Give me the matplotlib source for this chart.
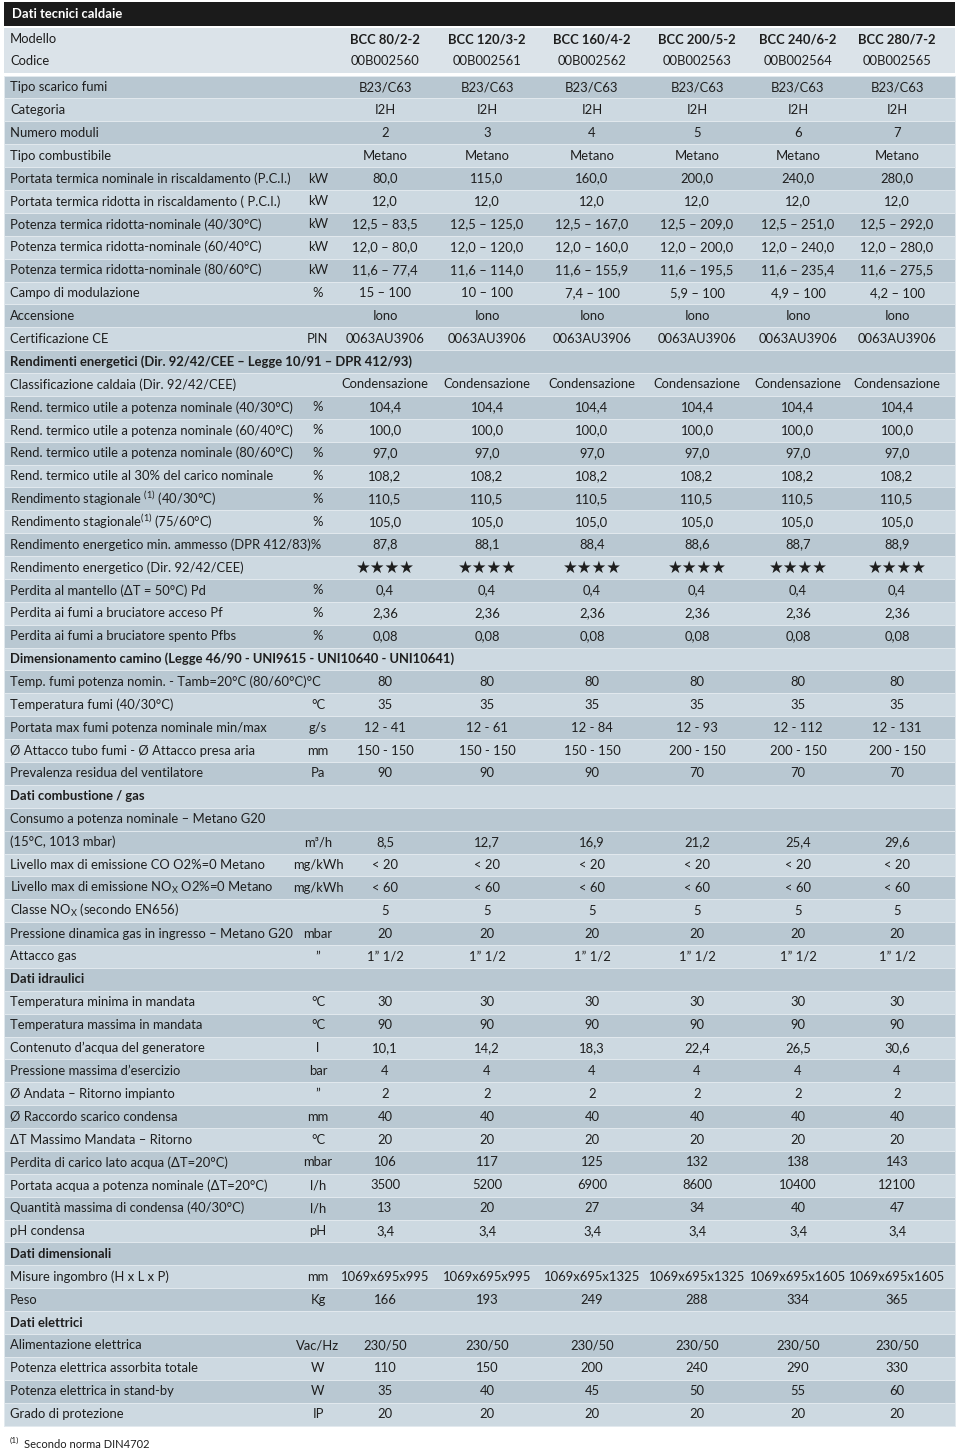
import matplotlib
matplotlib.use("Agg")
import matplotlib.pyplot as plt

plt.rcParams['font.family'] = ['Lato', 'DejaVu Sans']
plt.rcParams['mathtext.fontset'] = 'custom'
plt.rcParams['mathtext.rm'] = 'Lato'
plt.rcParams['mathtext.bf'] = 'Lato:bold'
plt.rcParams['mathtext.it'] = 'Lato:italic'

# Intestazione tabella
titolo = "Dati tecnici caldaie"
modelli = ["BCC 80/2-2", "BCC 120/3-2", "BCC 160/4-2", "BCC 200/5-2", "BCC 240/6-2", "BCC 280/7-2"]
codici = ["00B002560", "00B002561", "00B002562", "00B002563", "00B002564", "00B002565"]

# righe: (etichetta, unita, valori) ; valori None = intestazione di sezione
generale = [
    ("Tipo scarico fumi", "", ["B23/C63"] * 6),
    ("Categoria", "", ["I2H"] * 6),
    ("Numero moduli", "", ["2", "3", "4", "5", "6", "7"]),
    ("Tipo combustibile", "", ["Metano"] * 6),
    ("Portata termica nominale in riscaldamento (P.C.I.)", "kW", ["80,0", "115,0", "160,0", "200,0", "240,0", "280,0"]),
    ("Portata termica ridotta in riscaldamento ( P.C.I.)", "kW", ["12,0"] * 6),
    ("Potenza termica ridotta-nominale (40/30°C)", "kW",
     ["12,5 – 83,5", "12,5 – 125,0", "12,5 – 167,0", "12,5 – 209,0", "12,5 – 251,0", "12,5 – 292,0"]),
    ("Potenza termica ridotta-nominale (60/40°C)", "kW",
     ["12,0 – 80,0", "12,0 – 120,0", "12,0 – 160,0", "12,0 – 200,0", "12,0 – 240,0", "12,0 – 280,0"]),
    ("Potenza termica ridotta-nominale (80/60°C)", "kW",
     ["11,6 – 77,4", "11,6 – 114,0", "11,6 – 155,9", "11,6 – 195,5", "11,6 – 235,4", "11,6 – 275,5"]),
    ("Campo di modulazione", "%", ["15 – 100", "10 – 100", "7,4 – 100", "5,9 – 100", "4,9 – 100", "4,2 – 100"]),
    ("Accensione", "", ["Iono"] * 6),
    ("Certificazione CE", "PIN", ["0063AU3906"] * 6),
]

rendimenti = [
    ("Rendimenti energetici (Dir. 92/42/CEE – Legge 10/91 – DPR 412/93)", "", None),
    ("Classificazione caldaia (Dir. 92/42/CEE)", "", ["Condensazione"] * 6),
    ("Rend. termico utile a potenza nominale (40/30°C)", "%", ["104,4"] * 6),
    ("Rend. termico utile a potenza nominale (60/40°C)", "%", ["100,0"] * 6),
    ("Rend. termico utile a potenza nominale (80/60°C)", "%", ["97,0"] * 6),
    ("Rend. termico utile al 30% del carico nominale", "%", ["108,2"] * 6),
    (r"Rendimento stagionale $^{\rm (1)}$ (40/30°C)", "%", ["110,5"] * 6),
    (r"Rendimento stagionale$^{\rm (1)}$ (75/60°C)", "%", ["105,0"] * 6),
    ("Rendimento energetico min. ammesso (DPR 412/83)%", "", ["87,8", "88,1", "88,4", "88,6", "88,7", "88,9"]),
    ("Rendimento energetico (Dir. 92/42/CEE)", "", ["★★★★"] * 6),
    ("Perdita al mantello (ΔT = 50°C) Pd", "%", ["0,4"] * 6),
    ("Perdita ai fumi a bruciatore acceso Pf", "%", ["2,36"] * 6),
    ("Perdita ai fumi a bruciatore spento Pfbs", "%", ["0,08"] * 6),
]

camino = [
    ("Dimensionamento camino (Legge 46/90 - UNI9615 - UNI10640 - UNI10641)", "", None),
    ("Temp. fumi potenza nomin. - Tamb=20°C (80/60°C)°C", "", ["80"] * 6),
    ("Temperatura fumi (40/30°C)", "°C", ["35"] * 6),
    ("Portata max fumi potenza nominale min/max", "g/s", ["12 - 41", "12 - 61", "12 - 84", "12 - 93", "12 - 112", "12 - 131"]),
    ("Ø Attacco tubo fumi - Ø Attacco presa aria", "mm", ["150 - 150"] * 3 + ["200 - 150"] * 3),
    ("Prevalenza residua del ventilatore", "Pa", ["90", "90", "90", "70", "70", "70"]),
]

combustione = [
    ("Dati combustione / gas", "", None),
    ("Consumo a potenza nominale – Metano G20", "", []),
    ("(15°C, 1013 mbar)", "m³/h", ["8,5", "12,7", "16,9", "21,2", "25,4", "29,6"]),
    ("Livello max di emissione CO O2%=0 Metano", "mg/kWh", ["< 20"] * 6),
    (r"Livello max di emissione NO$_{\rm X}$ O2%=0 Metano", "mg/kWh", ["< 60"] * 6),
    (r"Classe NO$_{\rm X}$ (secondo EN656)", "", ["5"] * 6),
    ("Pressione dinamica gas in ingresso – Metano G20", "mbar", ["20"] * 6),
    ("Attacco gas", "”", ["1” 1/2"] * 6),
]

idraulici = [
    ("Dati idraulici", "", None),
    ("Temperatura minima in mandata", "°C", ["30"] * 6),
    ("Temperatura massima in mandata", "°C", ["90"] * 6),
    ("Contenuto d’acqua del generatore", "l", ["10,1", "14,2", "18,3", "22,4", "26,5", "30,6"]),
    ("Pressione massima d’esercizio", "bar", ["4"] * 6),
    ("Ø Andata – Ritorno impianto", "”", ["2"] * 6),
    ("Ø Raccordo scarico condensa", "mm", ["40"] * 6),
    ("ΔT Massimo Mandata – Ritorno", "°C", ["20"] * 6),
    ("Perdita di carico lato acqua (ΔT=20°C)", "mbar", ["106", "117", "125", "132", "138", "143"]),
    ("Portata acqua a potenza nominale (ΔT=20°C)", "l/h", ["3500", "5200", "6900", "8600", "10400", "12100"]),
    ("Quantità massima di condensa (40/30°C)", "l/h", ["13", "20", "27", "34", "40", "47"]),
    ("pH condensa", "pH", ["3,4"] * 6),
]

dimensionali = [
    ("Dati dimensionali", "", None),
    ("Misure ingombro (H x L x P)", "mm", ["1069x695x995"] * 2 + ["1069x695x1325"] * 2 + ["1069x695x1605"] * 2),
    ("Peso", "Kg", ["166", "193", "249", "288", "334", "365"]),
]

elettrici = [
    ("Dati elettrici", "", None),
    ("Alimentazione elettrica", "Vac/Hz", ["230/50"] * 6),
    ("Potenza elettrica assorbita totale", "W", ["110", "150", "200", "240", "290", "330"]),
    ("Potenza elettrica in stand-by", "W", ["35", "40", "45", "50", "55", "60"]),
    ("Grado di protezione", "IP", ["20"] * 6),
]

nota = "Secondo norma DIN4702"

righe = generale + rendimenti + camino + combustione + idraulici + dimensionali + elettrici

# colori e geometria
c_scuro = "#b9c8d2"
c_chiaro = "#cdd9e1"
c_testa = "#dbe3e9"
c_sep = "#e2e9ee"
c_testo = "#1e1e1e"
fs = 9.4

x_col = [385, 487, 592, 697, 798, 897]
x_unit = 318
x_lab = 10
top0 = 75.6
h = 22.88

fig = plt.figure(figsize=(9.6, 14.53), dpi=100)
ax = fig.add_axes([0, 0, 1, 1])
ax.set_xlim(0, 960)
ax.set_ylim(1453, 0)
ax.axis("off")

# barra titolo
ax.barh([14], [951], left=4, height=24, color="#1b1b1b")
ax.text(12, 14, titolo, color="white", fontsize=fs, fontweight="bold", va="center")

# blocco modello / codice
ax.barh([50], [951], left=4, height=45, color=c_testa)
ax.text(x_lab, 39, "Modello", fontsize=fs, color=c_testo, va="center")
ax.text(x_lab, 61, "Codice", fontsize=fs, color=c_testo, va="center")
for x, m, c in zip(x_col, modelli, codici):
    ax.text(x, 39, m, fontsize=fs, fontweight="bold", color=c_testo, va="center", ha="center")
    ax.text(x, 61, c, fontsize=fs, color=c_testo, va="center", ha="center")

# righe tabella
centri = []
colori = []
k = 0
prev_vuota = False
for i, (lab, un, vals) in enumerate(righe):
    centri.append(top0 + h * (i + 0.5))
    if prev_vuota:
        k -= 1
    colori.append(c_scuro if k % 2 == 0 else c_chiaro)
    k += 1
    prev_vuota = vals is not None and len(vals) == 0

ax.barh(centri, [951] * len(righe), left=4, height=h, color=colori, edgecolor=c_sep, linewidth=0.7)

for y, (lab, un, vals) in zip(centri, righe):
    if vals is None:
        ax.text(x_lab, y, lab, fontsize=fs, fontweight="bold", color=c_testo, va="center")
        continue
    ax.text(x_lab, y, lab, fontsize=fs, color=c_testo, va="center")
    if un:
        ax.text(x_unit, y, un, fontsize=fs, color=c_testo, va="center", ha="center")
    for x, v in zip(x_col, vals):
        size = fs + 2.5 if "★" in v else fs
        ax.text(x, y, v, fontsize=size, color=c_testo, va="center", ha="center")

# nota
ax.text(10, 1440, "(1)", fontsize=6, color=c_testo, va="center")
ax.text(24, 1445, nota, fontsize=8, color=c_testo, va="center")

fig.savefig("out.png", dpi=100, facecolor="white")
